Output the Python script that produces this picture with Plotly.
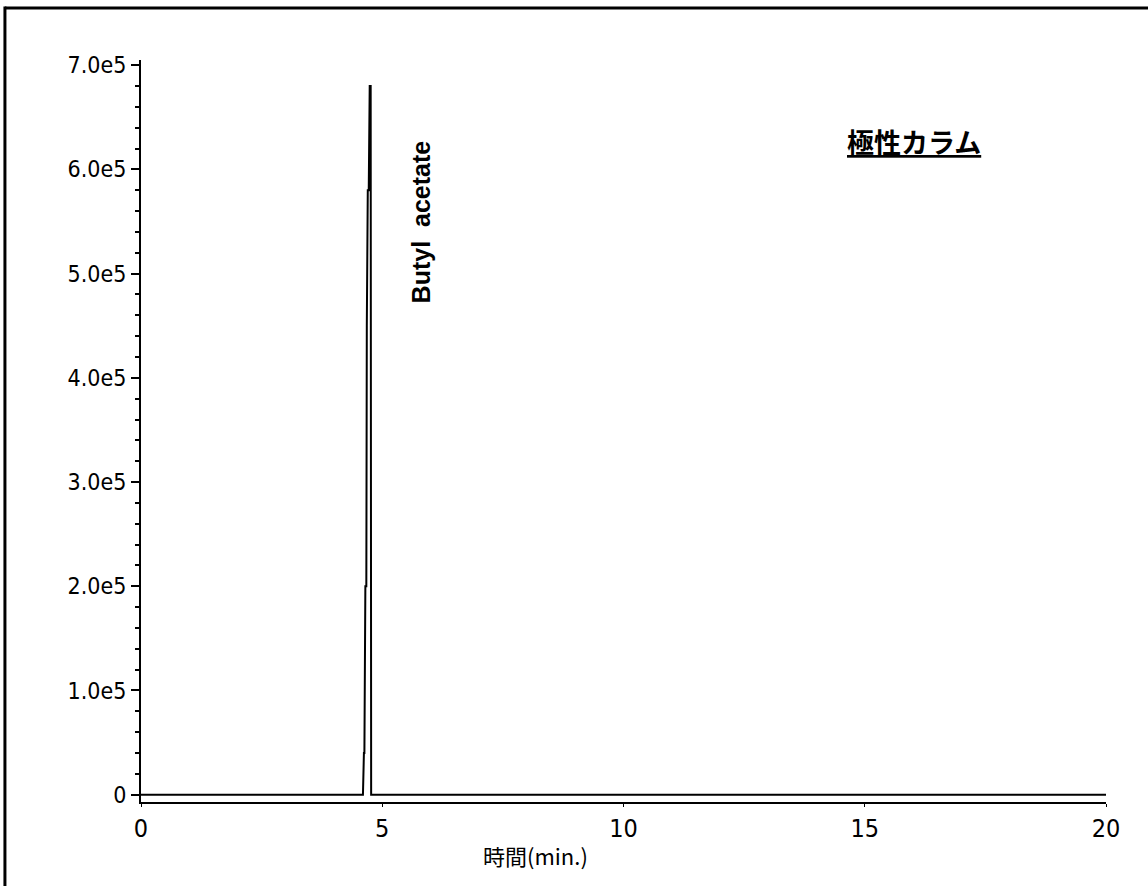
import plotly.graph_objects as go

# retention time (min) and detector response
time_min = [0.0, 4.60, 4.62, 4.63, 4.65, 4.67, 4.68, 4.70, 4.72, 4.74, 4.76, 4.77, 20.0]
signal = [0, 0, 40000, 40000, 200000, 200000, 450000, 580000, 580000, 680000, 680000, 0, 0]

y_tickvals = [0, 100000, 200000, 300000, 400000, 500000, 600000, 700000]
y_ticktext = ["0", "1.0e5", "2.0e5", "3.0e5", "4.0e5", "5.0e5", "6.0e5", "7.0e5"]
x_tickvals = [0, 5, 10, 15, 20]
x_ticktext = ["0", "5", "10", "15", "20"]

peak_label = "Butyl  acetate"
peak_label_pos = (5.80, 550000)
column_label = "極性カラム"
column_label_pos = (16.03, 627000)
x_title = "時間(min.)"
x_title_pos = 8.17

tick_font = dict(family="DejaVu Sans Condensed, Liberation Sans Narrow, sans-serif",
                 size=23, color="black")

fig = go.Figure()
fig.add_trace(go.Scatter(
    x=time_min,
    y=signal,
    mode="lines",
    line=dict(color="black", width=2),
    showlegend=False,
    hoverinfo="skip",
))

fig.add_annotation(
    x=peak_label_pos[0], y=peak_label_pos[1], text=peak_label, textangle=-90,
    showarrow=False, font=dict(family="Liberation Sans, Arial, sans-serif", size=25, color="black", weight="bold"),
)
fig.add_annotation(
    x=column_label_pos[0], y=column_label_pos[1], text=column_label,
    showarrow=False,
    font=dict(family="Noto Sans CJK JP", size=27, color="black", weight="bold", lineposition="under"),
)
fig.add_annotation(
    x=x_title_pos, xref="x", y=-0.072, yref="paper", yanchor="middle", text=x_title,
    showarrow=False, font=dict(family="Noto Sans CJK JP", size=22, color="black"),
)

# outer frame of the scanned page
fig.add_shape(type="line", xref="paper", yref="paper", x0=-0.141, x1=1.05, y0=1.070, y1=1.070,
              line=dict(color="black", width=3))
fig.add_shape(type="line", xref="paper", yref="paper", x0=-0.141, x1=-0.141, y0=1.072, y1=-0.12,
              line=dict(color="black", width=3))

fig.update_layout(
    width=1148,
    height=886,
    margin=dict(l=141, r=42, t=60, b=84),
    plot_bgcolor="white",
    paper_bgcolor="white",
    xaxis=dict(
        range=[0, 20], tickvals=x_tickvals, ticktext=x_ticktext, showgrid=False, zeroline=False,
        showline=True, linecolor="black", linewidth=2, ticks="outside", ticklen=3, tickcolor="black",
        tickfont=dict(tick_font, size=25),
    ),
    yaxis=dict(
        range=[-7000, 705000], tickvals=y_tickvals, ticktext=y_ticktext, showgrid=False, zeroline=False,
        showline=True, linecolor="black", linewidth=2, ticks="outside", ticklen=8, tickwidth=2,
        tickcolor="black", tickfont=tick_font,
        minor=dict(dtick=20000, tick0=0, ticks="outside", ticklen=4, tickwidth=2, tickcolor="black"),
    ),
)

fig.write_html("out.html", config={"displayModeBar": False},
               post_script="document.body.style.margin='0px';")
